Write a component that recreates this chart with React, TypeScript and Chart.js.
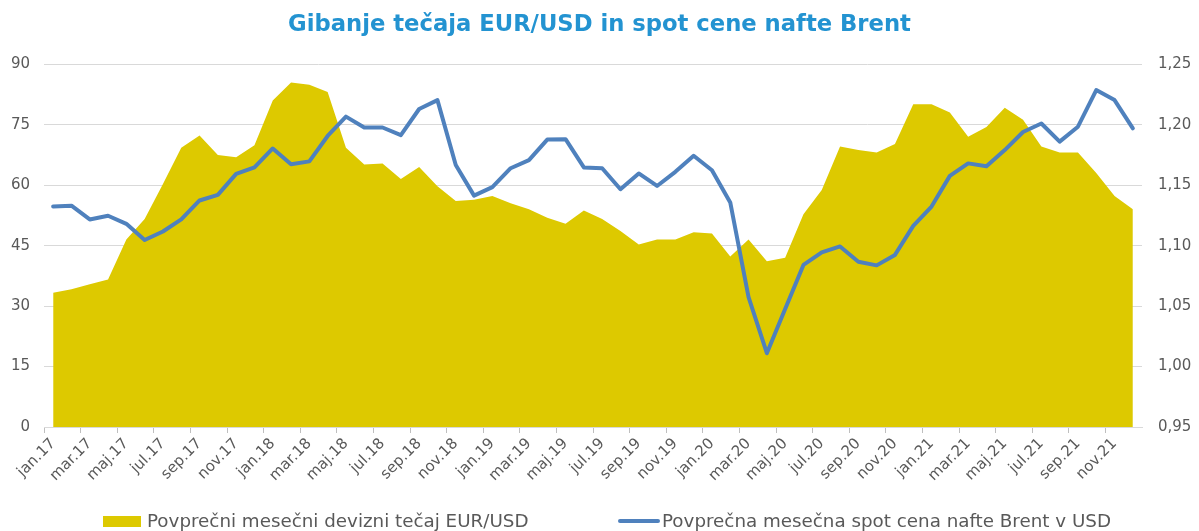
import React, { useEffect, useRef } from 'react';
import { Chart, registerables } from 'chart.js';

Chart.register(...registerables);

const categories: string[] = [
  'jan.17', 'feb.17', 'mar.17', 'apr.17', 'maj.17', 'jun.17', 'jul.17', 'avg.17', 'sep.17', 'okt.17', 'nov.17', 'dec.17',
  'jan.18', 'feb.18', 'mar.18', 'apr.18', 'maj.18', 'jun.18', 'jul.18', 'avg.18', 'sep.18', 'okt.18', 'nov.18', 'dec.18',
  'jan.19', 'feb.19', 'mar.19', 'apr.19', 'maj.19', 'jun.19', 'jul.19', 'avg.19', 'sep.19', 'okt.19', 'nov.19', 'dec.19',
  'jan.20', 'feb.20', 'mar.20', 'apr.20', 'maj.20', 'jun.20', 'jul.20', 'avg.20', 'sep.20', 'okt.20', 'nov.20', 'dec.20',
  'jan.21', 'feb.21', 'mar.21', 'apr.21', 'maj.21', 'jun.21', 'jul.21', 'avg.21', 'sep.21', 'okt.21', 'nov.21', 'dec.21',
];

// Average monthly EUR/USD exchange rate (right axis)
const eurUsd: number[] = [
  1.061, 1.064, 1.068, 1.072, 1.105, 1.122, 1.151, 1.181, 1.191, 1.175, 1.173, 1.183,
  1.220, 1.235, 1.233, 1.227, 1.181, 1.167, 1.168, 1.155, 1.165, 1.149, 1.137, 1.138,
  1.141, 1.135, 1.130, 1.123, 1.118, 1.129, 1.122, 1.112, 1.101, 1.105, 1.105, 1.111,
  1.110, 1.091, 1.105, 1.087, 1.090, 1.126, 1.146, 1.182, 1.179, 1.177, 1.184, 1.217,
  1.217, 1.210, 1.190, 1.198, 1.214, 1.204, 1.182, 1.177, 1.177, 1.160, 1.141, 1.130,
];

// Average monthly Brent spot price in USD (left axis)
const brent: number[] = [
  54.7, 54.9, 51.5, 52.4, 50.4, 46.4, 48.5, 51.5, 56.2, 57.6, 62.8, 64.4,
  69.1, 65.2, 65.9, 72.2, 77.0, 74.3, 74.3, 72.4, 78.9, 81.1, 65.0, 57.4,
  59.5, 64.2, 66.2, 71.3, 71.4, 64.4, 64.2, 59.0, 62.9, 59.8, 63.3, 67.3,
  63.7, 55.7, 32.2, 18.3, 29.3, 40.2, 43.3, 44.8, 41.0, 40.1, 42.7, 49.9,
  54.7, 62.3, 65.4, 64.7, 68.7, 73.2, 75.3, 70.8, 74.5, 83.6, 81.1, 74.1,
];

const seriesNames: string[] = [
  'Povprečni mesečni devizni tečaj EUR/USD',
  'Povprečna mesečna spot cena nafte Brent v USD',
];

const titleText = 'Gibanje tečaja EUR/USD in spot cene nafte Brent';

const leftTicks = { min: 0, max: 90, step: 15 };
const rightTicks = { min: 0.95, max: 1.25, step: 0.05 };

const W = 1199;
const H = 531;
const PLOT_LEFT = 44;
const PLOT_RIGHT = 1142;
const PLOT_BOTTOM = 427;

const YELLOW = '#DDC900';
const BLUE = '#4F81BD';
const TEXT = '#595959';
const GRID = '#D9D9D9';
const FONT = "'DejaVu Sans', sans-serif";

export default function App() {
  const ref = useRef<HTMLCanvasElement | null>(null);

  useEffect(() => {
    document.body.style.margin = '0';
    const canvas = ref.current;
    if (!canvas) return;
    const chart = new Chart(canvas, {
      type: 'line',
      data: {
        labels: categories,
        datasets: [
          {
            label: seriesNames[0],
            data: eurUsd,
            yAxisID: 'y1',
            fill: 'start',
            backgroundColor: YELLOW,
            borderColor: YELLOW,
            borderWidth: 0,
            pointRadius: 0,
            pointHoverRadius: 0,
            tension: 0,
            order: 1,
          },
          {
            label: seriesNames[1],
            data: brent,
            yAxisID: 'y',
            fill: false,
            borderColor: BLUE,
            backgroundColor: BLUE,
            borderWidth: 4,
            borderJoinStyle: 'round',
            borderCapStyle: 'round',
            pointRadius: 0,
            pointHoverRadius: 0,
            tension: 0,
            order: 0,
          },
        ],
      },
      options: {
        responsive: false,
        animation: false,
        devicePixelRatio: 1,
        layout: { padding: { left: 0, right: 0, top: 0, bottom: 0 } },
        plugins: {
          tooltip: { enabled: false },
          legend: { display: false },
          title: {
            display: true,
            text: titleText,
            color: '#2393D1',
            font: { family: FONT, size: 22.7, weight: 'bold' },
            padding: { top: 11, bottom: 26 },
          },
        },
        scales: {
          x: {
            type: 'category',
            offset: true,
            grid: {
              offset: true,
              drawOnChartArea: false,
              drawTicks: true,
              tickLength: 6,
              color: (ctx: any) => (ctx.index % 2 === 0 ? '#BFBFBF' : 'rgba(0,0,0,0)'),
            },
            border: { display: true, color: GRID, width: 1 },
            ticks: {
              autoSkip: false,
              maxRotation: 45,
              minRotation: 45,
              color: TEXT,
              padding: 2,
              font: { family: FONT, size: 15 },
              callback: (_v: any, i: number) => (i % 2 === 0 ? categories[i] : ''),
            },
            afterFit: (scale: any) => {
              scale.height = H - PLOT_BOTTOM;
            },
          },
          y: {
            type: 'linear',
            position: 'left',
            min: leftTicks.min,
            max: leftTicks.max,
            grid: { color: GRID, lineWidth: 1, drawTicks: false },
            border: { display: false },
            ticks: {
              stepSize: leftTicks.step,
              color: TEXT,
              padding: 14,
              font: { family: FONT, size: 15 },
            },
            afterFit: (scale: any) => {
              scale.width = PLOT_LEFT;
            },
          },
          y1: {
            type: 'linear',
            position: 'right',
            min: rightTicks.min,
            max: rightTicks.max,
            grid: { drawOnChartArea: false, drawTicks: false },
            border: { display: false },
            ticks: {
              stepSize: rightTicks.step,
              color: TEXT,
              padding: 16,
              font: { family: FONT, size: 15 },
              callback: (v: any) => Number(v).toFixed(2).replace('.', ','),
            },
            afterFit: (scale: any) => {
              scale.width = W - PLOT_RIGHT;
            },
          },
        },
      },
    });
    return () => chart.destroy();
  }, []);

  const legendText: React.CSSProperties = {
    fontFamily: FONT,
    fontSize: 18.3,
    color: TEXT,
    whiteSpace: 'nowrap',
    lineHeight: '22px',
  };

  return (
    <div style={{ position: 'absolute', left: 0, top: 0, width: W, height: H, background: '#fff', overflow: 'hidden' }}>
      <canvas ref={ref} width={W} height={H} style={{ width: W, height: H, display: 'block' }} />
      <div style={{ position: 'absolute', left: 103, top: 510, height: 22, display: 'flex', alignItems: 'center' }}>
        <span style={{ display: 'inline-block', width: 38, height: 11, background: YELLOW, marginRight: 6 }} />
        <span style={legendText}>{seriesNames[0]}</span>
      </div>
      <div style={{ position: 'absolute', left: 618, top: 510, height: 22, display: 'flex', alignItems: 'center' }}>
        <span style={{ display: 'inline-block', width: 42, height: 4, borderRadius: 2, background: BLUE, marginRight: 2 }} />
        <span style={legendText}>{seriesNames[1]}</span>
      </div>
    </div>
  );
}
